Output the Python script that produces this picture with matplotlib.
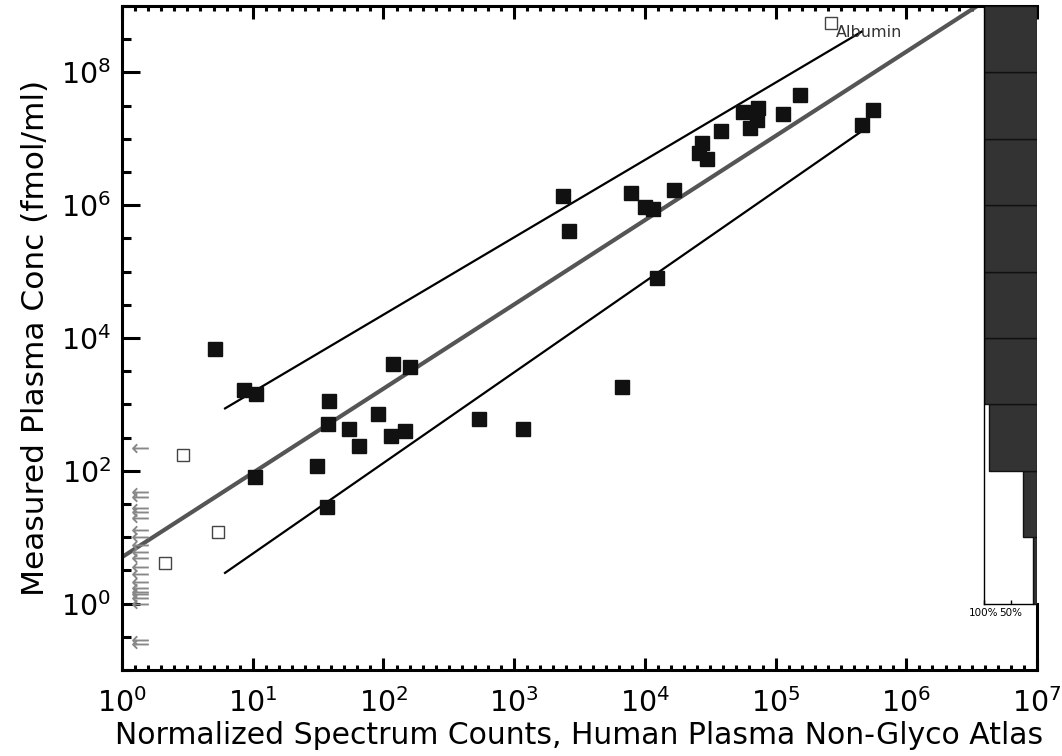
import matplotlib
matplotlib.use("Agg")
import matplotlib.pyplot as plt
from matplotlib.ticker import FixedLocator, NullFormatter, LogFormatterMathtext

# proteins with a measured concentration (filled squares)
counts = [5.15, 8.63, 10.5, 38.5, 118, 160, 37.8, 54.8, 90.4, 65.5, 115, 145,
          542, 1160, 30.9, 10.4, 36.8, 2360, 2640, 7800, 1.00e4, 1.16e4, 1.68e4,
          1.23e4, 2.72e4, 2.61e4, 3.01e4, 3.83e4, 5.61e4, 7.38e4, 7.18e4, 6.38e4,
          1.14e5, 1.54e5, 5.60e5, 4.56e5, 6700]
conc = [6760, 1640, 1410, 1130, 4060, 3610, 504, 419, 713, 237, 332, 391,
        593, 419, 117, 80.5, 28.4, 1.39e6, 4.03e5, 1.53e6, 9.27e5, 8.77e5, 1.71e6,
        7.96e4, 8.69e6, 6.14e6, 4.98e6, 1.30e7, 2.55e7, 2.93e7, 1.95e7, 1.43e7,
        2.38e7, 4.55e7, 2.67e7, 1.64e7, 1820]

# excluded points (open squares)
open_counts = [2.91, 5.46, 2.12, 2.64e5]
open_conc = [171, 11.9, 4.11, 5.62e8]

# proteins not seen in the atlas (arrows at left edge)
missing_conc = [224, 47.9, 40.7, 27.5, 24.0, 19.5, 12.9, 10.0, 7.59, 5.89, 4.79,
                3.55, 2.75, 2.09, 1.70, 1.51, 1.41, 1.23, 1.00, 0.282, 0.245]

# fit and bounds
fit_x = [1, 3.46e6]
fit_y = [5.0, 9.9e8]
band_x = [6.14, 4.56e5]
upper_y = [869, 4.11e8]
lower_y = [2.90, 1.30e7]

# fraction detected per concentration decade
bin_edges = [1e0, 1e1, 1e2, 1e3, 1e4, 1e5, 1e6, 1e7, 1e8, 1e9]
bin_frac = [0.075, 0.26, 0.91, 1, 1, 1, 1, 1, 1]

plt.rcParams["font.family"] = ["DejaVu Sans"]

fig = plt.figure(figsize=(10.62, 7.56), dpi=100)
ax = fig.add_axes([0.1149, 0.1138, 0.8616, 0.8783])
ax.set_xscale("log")
ax.set_yscale("log")
ax.set_xlim(1, 1e7)
ax.set_ylim(1e-1, 1e9)

ax.plot(fit_x, fit_y, color="#555555", lw=3.0, solid_capstyle="butt", zorder=2)
ax.plot(band_x, upper_y, color="black", lw=1.6, zorder=2)
ax.plot(band_x, lower_y, color="black", lw=1.6, zorder=2)

ax.plot(counts, conc, "s", color="#111111", ms=9.5, mec="#111111", zorder=3)
ax.plot(open_counts, open_conc, "s", mfc="white", mec="#444444", mew=1.0, ms=8,
        zorder=3)
ax.annotate("Albumin", (open_counts[-1], open_conc[-1]), xytext=(4, -7),
            textcoords="offset points", fontsize=11.5, color="#333333",
            va="center", ha="left")

# left-pointing arrows, drawn as markers near the left spine
ax.plot([0.0195] * len(missing_conc), missing_conc, linestyle="none",
        marker=r"$\leftarrow$", ms=12, color="#888888", mew=0,
        transform=ax.get_yaxis_transform(), zorder=2)

# ticks
ax.xaxis.set_major_locator(FixedLocator([10.0 ** k for k in range(8)]))
ax.xaxis.set_major_formatter(LogFormatterMathtext())
ax.xaxis.set_minor_locator(FixedLocator([10 ** (k + i / 10) for k in range(7)
                                         for i in range(1, 10)]))
ax.xaxis.set_minor_formatter(NullFormatter())
ax.yaxis.set_major_locator(FixedLocator([10.0 ** k for k in range(0, 10, 2)]))
ax.yaxis.set_major_formatter(LogFormatterMathtext())
ax.yaxis.set_minor_locator(FixedLocator([10 ** (k / 2) for k in range(-2, 19)]))
ax.yaxis.set_minor_formatter(NullFormatter())

ax.tick_params(axis="x", which="both", direction="in", top=True, bottom=True,
               width=2.2, labelsize=20.5, pad=13)
ax.tick_params(axis="x", which="major", length=9)
ax.tick_params(axis="x", which="minor", length=3.6)
ax.tick_params(axis="y", which="both", direction="in", left=True, right=False,
               width=2.2, labelsize=20.5, pad=8)
ax.tick_params(axis="y", which="major", length=13)
ax.tick_params(axis="y", which="minor", length=6.5)

for s in ax.spines.values():
    s.set_linewidth(2.2)
ax.spines["right"].set_bounds(1e-1, 1e0)

ax.set_xlabel("Normalized Spectrum Counts, Human Plasma Non-Glyco Atlas",
              fontsize=21.5, labelpad=2)
ax.set_ylabel("Measured Plasma Conc (fmol/ml)", fontsize=22.5, labelpad=8)

# detection fraction histogram on the right edge
hx = fig.add_axes([984 / 1062, 0.1138, 53 / 1062, 0.8783], sharey=ax)
hx.patch.set_visible(False)
hx.set_xlim(1.0, 0.0)
hx.barh(bin_edges[:-1], bin_frac,
        height=[hi - lo for lo, hi in zip(bin_edges[:-1], bin_edges[1:])],
        align="edge", color="#333333", edgecolor="#111111", lw=1.0)
hx.spines["top"].set_visible(False)
hx.spines["right"].set_visible(False)
hx.spines["left"].set_linewidth(1.0)
hx.spines["left"].set_bounds(1e0, 1e9)
hx.spines["bottom"].set_position(("data", 1e0))
hx.spines["bottom"].set_linewidth(1.0)
hx.spines["bottom"].set_bounds(1.0, 0.07)
hx.set_xticks([1.0, 0.5])
hx.set_xticklabels(["100%", "50%"])
hx.tick_params(axis="x", direction="in", length=3, width=1.0, labelsize=7.5,
               pad=3)
hx.tick_params(axis="y", which="both", left=False, right=False,
               labelleft=False)

fig.savefig("out.png", dpi=100)
